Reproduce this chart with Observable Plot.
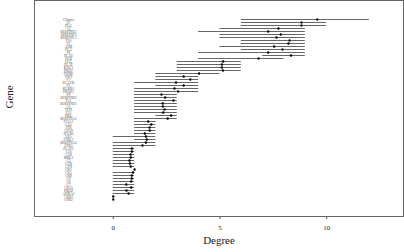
<!DOCTYPE html>
<html><head><meta charset="utf-8">
<script src="https://cdn.jsdelivr.net/npm/d3@7"></script>
<script src="https://cdn.jsdelivr.net/npm/@observablehq/plot@0.6"></script>
<style>body{margin:0;background:#fff}</style>
</head><body><div id="chart"></div>
<script>
const genes = ["CDmuo","F2","PLG","C3","SERPINE1","SERPINF2","SERPINC1","F10","F5","A2M","FGA","F8","PLAU","FGB","FGG","PLAT","KNG1","PROC","THBD","VWF","F7","PLAUR","F3","KLKB1","PROS1","F9","SERPINB2","F11","SERPIND1","C5","TFPI","F12","HRG","SERPINA1","F13A1","C4A","F2R","CD59","ITGB3","LPA","F2RL1","SERPINA5","CPB1","PLAT2","C1S","C1R","MBL2","C2","CFB","CFH","CR2","C8A","C8B","C9","C6","C7","CD55","PROZ","ANXA2","CPB3","CPB2"];
const lo = [6,6,6,5,4,5,5,6,6,5,6,4,7,4,3,3,3,3,2,2,2,1,2,1,1,1,1,1,1,1,1,1,2,1,1,1,1,1,1,0,1,0,0,0,0,0,0,0,0,0,1,0,0,0,0,0,0,0,0,0,0];
const hi = [12,10,10,9,9,9,9,9,9,9,9,9,9,8,6,6,6,6,5,4,4,4,4,4,4,3,3,3,3,3,3,3,3,3,2,2,2,2,2,2,2,2,2,1,1,1,1,1,1,1,1,1,1,1,1,1,1,1,1,0,0];
const degree = [9.56,8.82,8.82,7.74,7.26,7.85,7.65,8.26,8.21,7.54,7.93,7.26,8.33,6.81,5.15,5.09,5.09,5.14,4.02,3.30,3.61,2.94,3.30,2.87,3.04,2.26,2.43,2.82,2.32,2.32,2.40,2.34,2.71,2.55,1.64,1.78,1.70,1.71,1.48,1.53,1.57,1.53,1.37,0.87,0.87,0.81,0.82,0.76,0.78,0.82,1.0,0.93,0.87,0.87,0.84,0.61,0.84,0.62,0.72,0,0];
const xTicks = [0,5,10];

const data = genes.map((g,i)=>({gene:g, lo:lo[i], hi:hi[i], degree:degree[i]}));

const chart = Plot.plot({
  width: 404, height: 252,
  marginLeft: 34, marginRight: 1, marginTop: 0, marginBottom: 36,
  style: {fontFamily: "Liberation Serif, DejaVu Serif, serif", background: "#fff", color: "#000"},
  x: {domain: [-3.69, 13.6]},
  y: {type: "point", domain: genes, range: [11.3, 207]},
  marks: [
    Plot.frame({stroke: "#666", strokeWidth: 1}),
    Plot.ruleY(data, {y: "gene", x1: "lo", x2: "hi", stroke: "#4a4a4a", strokeWidth: 0.85}),
    Plot.dot(data, {x: "degree", y: "gene", r: 1.2, fill: "#000", stroke: "none"}),
    Plot.axisX({ticks: xTicks, tickSize: 3, tickPadding: 6, fontSize: 7, label: null, stroke: "#555", fill: "#222"}),
    Plot.axisY({tickSize: 0, tickPadding: 0, textAnchor: "middle", dx: 34, fontSize: 3.6, label: null, fill: "#555"}),
    Plot.text(["Degree"], {frameAnchor: "bottom", dy: 27, fontSize: 11, fill: "#222"}),
    Plot.text(["Gene"], {frameAnchor: "left", rotate: -90, dx: -25, fontSize: 11, fill: "#222"})
  ]
});
document.getElementById("chart").appendChild(chart);
</script>
</body></html>
